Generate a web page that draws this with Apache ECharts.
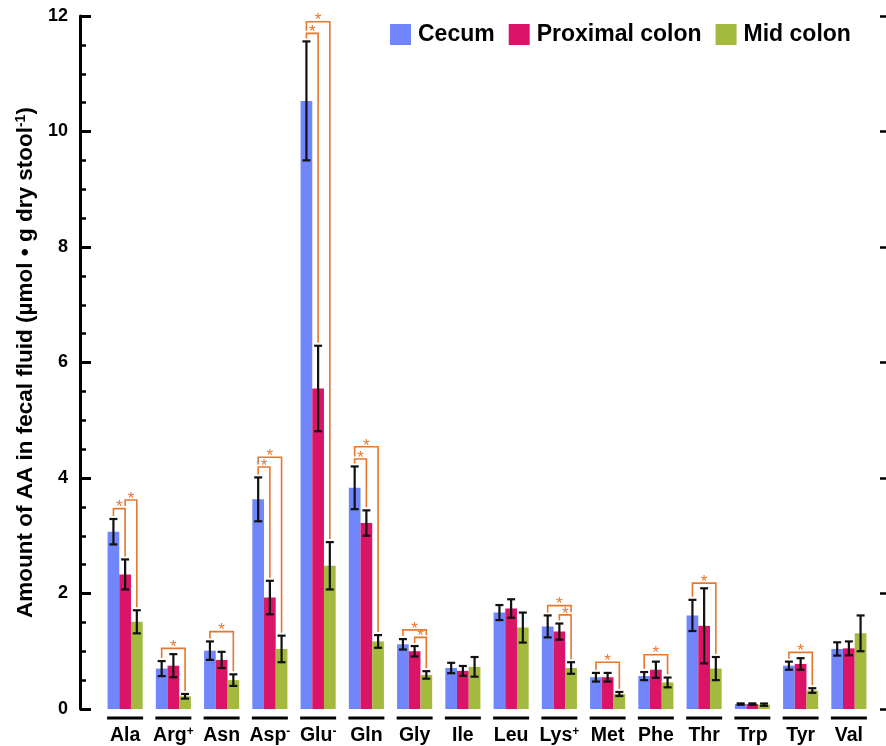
<!DOCTYPE html>
<html>
<head>
<meta charset="utf-8">
<script src="https://cdn.jsdelivr.net/npm/echarts@6/dist/echarts.min.js"></script>
<style>
  html, body { margin: 0; padding: 0; background: #ffffff; }
  #chart { width: 886px; height: 746px; }
</style>
</head>
<body>
<div id="chart"></div>
<script>
// Amino acid amounts in fecal fluid per gut segment (mean ± error)
const categories = ['Ala', 'Arg+', 'Asn', 'Asp-', 'Glu-', 'Gln', 'Gly', 'Ile', 'Leu', 'Lys+', 'Met', 'Phe', 'Thr', 'Trp', 'Tyr', 'Val'];
const seriesNames = ['Cecum', 'Proximal colon', 'Mid colon'];

const cecum       = [3.07, 0.70, 1.01, 3.63, 10.53, 3.83, 1.12, 0.71, 1.67, 1.43, 0.55, 0.57, 1.62, 0.085, 0.75, 1.04];
const cecumErr    = [0.22, 0.13, 0.16, 0.38, 1.03, 0.37, 0.09, 0.09, 0.13, 0.19, 0.075, 0.07, 0.27, 0.012, 0.07, 0.115];
const proximal    = [2.33, 0.75, 0.85, 1.93, 5.55, 3.22, 1.00, 0.66, 1.74, 1.34, 0.55, 0.68, 1.44, 0.085, 0.78, 1.05];
const proximalErr = [0.26, 0.20, 0.14, 0.29, 0.74, 0.22, 0.09, 0.085, 0.16, 0.14, 0.075, 0.14, 0.65, 0.012, 0.10, 0.12];
const mid         = [1.51, 0.22, 0.50, 1.04, 2.48, 1.17, 0.59, 0.73, 1.41, 0.71, 0.26, 0.46, 0.70, 0.075, 0.32, 1.31];
const midErr      = [0.20, 0.04, 0.10, 0.23, 0.41, 0.11, 0.065, 0.17, 0.26, 0.10, 0.035, 0.085, 0.20, 0.02, 0.04, 0.31];

// significance brackets: [category index, from bar, to bar, bracket height]
const brackets = [
  [0, 0, 1, 3.47], [0, 1, 2, 3.62],
  [1, 0, 2, 1.05],
  [2, 0, 2, 1.34],
  [3, 0, 1, 4.19], [3, 0, 2, 4.36],
  [4, 0, 1, 11.70], [4, 0, 2, 11.90],
  [5, 0, 1, 4.33], [5, 0, 2, 4.54],
  [6, 0, 2, 1.37], [6, 1, 2, 1.24],
  [9, 0, 2, 1.79], [9, 1, 2, 1.63],
  [10, 0, 2, 0.81],
  [11, 0, 2, 0.94],
  [12, 0, 2, 2.18],
  [14, 0, 2, 0.98]
];

const yTicks = [0, 2, 4, 6, 8, 10, 12];

const means = [cecum, proximal, mid];
const errs = [cecumErr, proximalErr, midErr];
const colors = ['#7086FA', '#DA1467', '#A3BA3F'];
const BAR_W = 11.7;
const ORANGE = '#E4782F';
const FONT = 'Liberation Sans, Arial, sans-serif';

function barOffset(b) { return (b - 1) * BAR_W; }

const chart = echarts.init(document.getElementById('chart'), null, { renderer: 'canvas' });

function errorSeries(b) {
  return {
    type: 'custom',
    name: seriesNames[b] + ' error',
    z: 5,
    clip: false,
    data: means[b].map((m, i) => [i, m, errs[b][i]]),
    renderItem: function (params, api) {
      const i = api.value(0), m = api.value(1), e = api.value(2);
      const x = api.coord([i, m])[0] + barOffset(b);
      const yTop = api.coord([i, m + e])[1];
      const yBot = api.coord([i, Math.max(m - e, 0)])[1];
      const style = { stroke: '#111', lineWidth: 2.2 };
      return {
        type: 'group',
        children: [
          { type: 'line', shape: { x1: x, y1: yTop, x2: x, y2: yBot }, style: style },
          { type: 'line', shape: { x1: x - 4, y1: yTop, x2: x + 4, y2: yTop }, style: style },
          { type: 'line', shape: { x1: x - 4, y1: yBot, x2: x + 4, y2: yBot }, style: style }
        ]
      };
    }
  };
}

// lowest point a bracket leg may reach above bar b in category c
function legStop(api, c, b, level) {
  let stop = means[b][c] + errs[b][c];
  let px = api.coord([c, stop])[1] - 3;
  brackets.forEach(function (o) {
    if (o[0] === c && o[3] < level && o[1] <= b && o[2] >= b) {
      const py = api.coord([c, o[3]])[1] - 2.5;
      if (py < px) px = py;
    }
  });
  return px;
}

const bracketSeries = {
  type: 'custom',
  name: 'significance',
  z: 6,
  clip: false,
  data: brackets,
  renderItem: function (params, api) {
    const c = api.value(0), b0 = api.value(1), b1 = api.value(2), lvl = api.value(3);
    const cx = api.coord([c, lvl])[0];
    const y = api.coord([c, lvl])[1];
    const x0 = cx + barOffset(b0), x1 = cx + barOffset(b1);
    const s0 = legStop(api, c, b0, lvl), s1 = legStop(api, c, b1, lvl);
    return {
      type: 'group',
      children: [
        { type: 'polyline', shape: { points: [[x0, s0], [x0, y], [x1, y], [x1, s1]] },
          style: { stroke: ORANGE, lineWidth: 1.6, fill: null } },
        { type: 'text', style: { text: '*', x: (x0 + x1) / 2, y: y - 1, fill: ORANGE,
          font: '17px ' + FONT, textAlign: 'center', textVerticalAlign: 'middle' } }
      ]
    };
  }
};

const underlineSeries = {
  type: 'custom',
  name: 'group rule',
  z: 4,
  clip: false,
  data: categories.map((c, i) => [i]),
  renderItem: function (params, api) {
    const p = api.coord([api.value(0), 0]);
    return { type: 'line', shape: { x1: p[0] - 18, y1: p[1] + 9, x2: p[0] + 18, y2: p[1] + 9 },
      style: { stroke: '#000', lineWidth: 3 } };
  }
};

const barSeries = seriesNames.map((n, b) => ({
  type: 'bar',
  name: n,
  data: means[b],
  barWidth: BAR_W,
  barGap: '0%',
  itemStyle: { color: colors[b] },
  z: 2
}));

const supStyle = { fontFamily: FONT, fontWeight: 'bold', fontSize: 12, color: '#000', verticalAlign: 'top', padding: [0, 0, 8, 0] };

chart.setOption({
  animation: false,
  color: colors,
  grid: { left: 101, right: 13, top: 16, bottom: 36, containLabel: false },
  legend: {
    data: seriesNames,
    left: 385, top: 18,
    icon: 'rect', itemWidth: 21, itemHeight: 21, itemGap: 14,
    textStyle: { fontFamily: FONT, fontWeight: 'bold', fontSize: 23, color: '#000', padding: [0, 0, 0, 2] }
  },
  xAxis: {
    type: 'category',
    data: categories,
    axisLine: { show: false },
    axisTick: { show: false },
    axisLabel: {
      interval: 0,
      margin: 17,
      fontFamily: FONT, fontWeight: 'bold', fontSize: 19.5, color: '#000',
      formatter: function (v) {
        const last = v.slice(-1);
        if (last === '+' || last === '-') return v.slice(0, -1) + '{sup|' + last + '}';
        return v;
      },
      rich: { sup: supStyle }
    }
  },
  yAxis: [
    {
      type: 'value', min: yTicks[0], max: yTicks[yTicks.length - 1], interval: 2,
      position: 'left', offset: 21,
      name: 'Amount of AA in fecal fluid (µmol • g dry stool{sup|-1})',
      nameLocation: 'middle', nameGap: 43,
      nameTextStyle: {
        fontFamily: FONT, fontWeight: 'bold', fontSize: 22.5, color: '#000',
        rich: { sup: Object.assign({}, supStyle, { fontSize: 14, padding: [0, 0, 9, 0] }) }
      },
      axisLine: { show: true, lineStyle: { color: '#000', width: 3 } },
      axisTick: { show: true, inside: true, length: 11, lineStyle: { color: '#000', width: 3 } },
      minorTick: { show: true, splitNumber: 4, length: 6, lineStyle: { color: '#000', width: 2.5 } },
      axisLabel: { margin: 12, fontFamily: FONT, fontWeight: 'bold', fontSize: 18, color: '#000' },
      splitLine: { show: false }
    },
    {
      type: 'value', min: yTicks[0], max: yTicks[yTicks.length - 1], interval: 2,
      position: 'right', offset: 13,
      axisLine: { show: false },
      axisTick: { show: true, inside: true, length: 6, lineStyle: { color: '#000', width: 2.5 } },
      axisLabel: { show: false },
      splitLine: { show: false }
    }
  ],
  series: barSeries.concat([errorSeries(0), errorSeries(1), errorSeries(2), bracketSeries, underlineSeries])
});
</script>
</body>
</html>
